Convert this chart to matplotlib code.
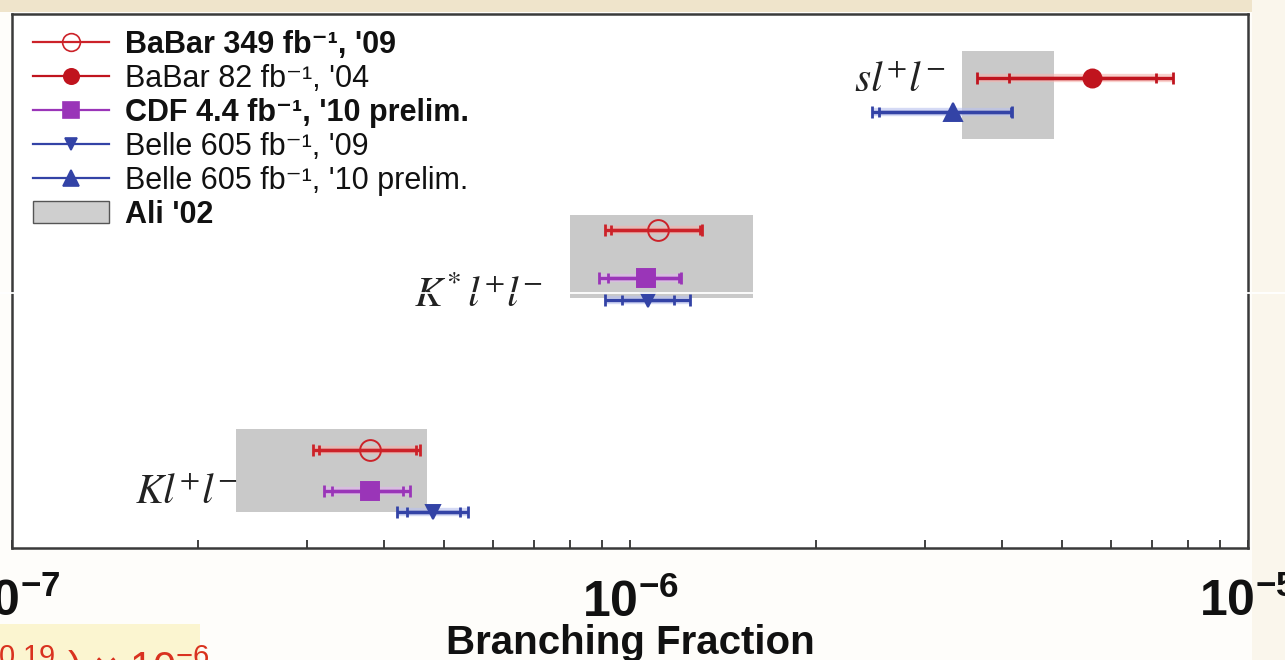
import matplotlib
matplotlib.use("Agg")
import matplotlib.pyplot as plt
from matplotlib.lines import Line2D
from matplotlib.patches import Rectangle, Patch
from matplotlib.ticker import LogLocator, NullFormatter

plt.rcParams["font.family"] = ["Liberation Sans", "DejaVu Sans"]
plt.rcParams["mathtext.fontset"] = "custom"
plt.rcParams["mathtext.rm"] = "Liberation Sans"
plt.rcParams["mathtext.bf"] = "Liberation Sans:bold"
plt.rcParams["mathtext.it"] = "Liberation Sans:italic"

# ---------------- data ----------------
channels = ["K", "Kstar", "Xs"]
channel_labels = [r"$Kl^{+}l^{-}$", r"$K^{*}\,l^{+}l^{-}$", r"$sl^{+}l^{-}$"]

experiments = [
    "BaBar 349 fb\u207b\u00b9, '09",
    "BaBar 82 fb\u207b\u00b9, '04",
    "CDF 4.4 fb\u207b\u00b9, '10 prelim.",
    "Belle 605 fb\u207b\u00b9, '09",
    "Belle 605 fb\u207b\u00b9, '10 prelim.",
]
theory_label = "Ali '02"

# measurements: experiment index, channel, central value, stat and total errors
meas_exp = [0, 2, 3, 0, 2, 3, 1, 4]
meas_channel = ["K", "K", "K", "Kstar", "Kstar", "Kstar", "Xs", "Xs"]
meas_value = [3.80e-7, 3.80e-7, 4.80e-7, 1.11e-6, 1.06e-6, 1.07e-6, 5.60e-6, 3.33e-6]
meas_stat_lo = [0.66e-7, 0.50e-7, 0.45e-7, 0.18e-6, 0.14e-6, 0.10e-6, 1.50e-6, 0.80e-6]
meas_stat_hi = [0.70e-7, 0.50e-7, 0.50e-7, 0.19e-6, 0.14e-6, 0.11e-6, 1.50e-6, 0.80e-6]
meas_tot_lo = [0.73e-7, 0.60e-7, 0.60e-7, 0.20e-6, 0.17e-6, 0.16e-6, 1.95e-6, 0.87e-6]
meas_tot_hi = [0.77e-7, 0.60e-7, 0.67e-7, 0.20e-6, 0.15e-6, 0.18e-6, 1.95e-6, 0.82e-6]

# theory prediction (Ali '02): central value and uncertainty per channel
theory_value = [0.35e-6, 1.19e-6, 4.15e-6]
theory_err = [0.12e-6, 0.39e-6, 0.70e-6]

# ---------------- layout ----------------
W, H = 1285, 660
exp_colors = ["#cc2229", "#c0141e", "#9a35b8", "#3343a6", "#3343a6"]
exp_markers = ["o", "o", "s", "v", "^"]
exp_ms = [15, 13, 13, 10, 13]
exp_filled = [False, True, True, True, True]
exp_weight = ["bold", "normal", "bold", "normal", "normal"]
halo_colors = ["#f6b3ad", "#f6b3ad", "#e2b6ef", "#b9c2ef", "#b9c2ef"]

# vertical placement of each measurement row and theory band
meas_row_y = [98, 57, 36, 318, 270, 248, 470, 436]
band_y = [(36, 119), (250, 333), (409, 497)]
label_pos = [(1.58e-7, 44), (4.48e-7, 241), (2.30e-6, 456)]

fig = plt.figure(figsize=(W / 100, H / 100), dpi=100, facecolor="#fefdfa")

# slide background strips around the plot
fig.add_artist(Rectangle((0, 1 - 12 / H), 1, 12 / H, transform=fig.transFigure,
                         fc="#efe4cb", ec="none", zorder=0))
fig.add_artist(Rectangle((1252 / W, 0), 33 / W, 1, transform=fig.transFigure,
                         fc="#faf6ec", ec="none", zorder=0))
fig.add_artist(Rectangle((0, 0), 200 / W, 36 / H, transform=fig.transFigure,
                         fc="#fbf5d0", ec="none", zorder=0))

ax = fig.add_axes([12 / W, 112 / H, 1236 / W, 534 / H])
ax.set_xscale("log")
ax.set_xlim(1e-7, 1e-5)
ax.set_ylim(0, 534)
ax.set_facecolor("white")

# theory bands
for val, err, (y0, y1) in zip(theory_value, theory_err, band_y):
    ax.add_patch(Rectangle((val - err, y0), 2 * err, y1 - y0,
                           fc="#c9c9c9", ec="none", zorder=1))

# measurements: total error with outer caps, stat error with inner ticks
for i, v in enumerate(meas_value):
    e = meas_exp[i]
    c = exp_colors[e]
    y = meas_row_y[i]
    ax.plot([v - meas_tot_lo[i], v + meas_tot_hi[i]], [y, y], color=halo_colors[e],
            lw=6, alpha=0.6, solid_capstyle="butt", zorder=2)
    ax.errorbar(v, y, xerr=[[meas_tot_lo[i]], [meas_tot_hi[i]]], fmt="none",
                ecolor=c, elinewidth=2.4, capsize=4.5, capthick=2.0, zorder=3)
    ax.errorbar(v, y, xerr=[[meas_stat_lo[i]], [meas_stat_hi[i]]], fmt="none",
                ecolor=c, elinewidth=2.4, capsize=3.5, capthick=2.0, zorder=3)
    ax.plot(v, y, ls="none", marker=exp_markers[e], ms=exp_ms[e],
            mfc=c if exp_filled[e] else "none", mec=c, mew=1.4, zorder=4)

# channel names
for (x, y), lab in zip(label_pos, channel_labels):
    ax.text(x, y, lab, fontsize=30, color="#222222", ha="left", va="baseline",
            math_fontfamily="stix", zorder=5)

# axis styling
for s in ax.spines.values():
    s.set_color("#3a3a3a")
    s.set_linewidth(1.8)
ax.set_yticks([])
ax.set_xticks([1e-7, 1e-6, 1e-5])
ax.set_xticklabels([r"$\mathbf{10^{-7}}$", r"$\mathbf{10^{-6}}$", r"$\mathbf{10^{-5}}$"])
ax.xaxis.set_minor_locator(LogLocator(base=10, subs=range(2, 10)))
ax.xaxis.set_minor_formatter(NullFormatter())
ax.tick_params(axis="x", which="both", direction="in", length=6, width=1.3,
               color="#333333", top=False)
ax.tick_params(axis="x", which="major", labelsize=36, pad=22, labelcolor="#111111")
ax.set_xlabel("Branching Fraction", fontsize=29, fontweight="bold", color="#111111")
ax.xaxis.set_label_coords(0.5, -0.142)

# legend
handles = []
for e in range(len(experiments)):
    c = exp_colors[e]
    handles.append(Line2D([], [], color=c, lw=1.6, marker=exp_markers[e],
                          ms=exp_ms[e] * 0.85,
                          mfc=c if exp_filled[e] else "none", mec=c, mew=1.2))
handles.append(Patch(fc="#cfcfcf", ec="#555555", lw=1.0))
leg = ax.legend(handles, experiments + [theory_label], loc="upper left",
                bbox_to_anchor=(21 / 1236, 1 - 16 / 534), frameon=False,
                fontsize=22, borderpad=0, borderaxespad=0, handlelength=2.5,
                handletextpad=0.5, labelspacing=0.13)
for t, w in zip(leg.get_texts(), exp_weight + ["bold"]):
    t.set_fontweight(w)
    t.set_color("#111111")

# fragment of the neighbouring text box at the lower left
fig.text(-2 / W, 1 - 644 / H, r"$^{0.19}$ ) $\times$ 10$^{-6}$", fontsize=30,
         color="#d9321f", ha="left", va="top")

# thin white rule crossing the slide
fig.add_artist(Line2D([0, 1], [1 - 293 / H] * 2, transform=fig.transFigure,
                      color="white", lw=1.3, zorder=10))

fig.savefig("out.png", dpi=100, facecolor=fig.get_facecolor())
